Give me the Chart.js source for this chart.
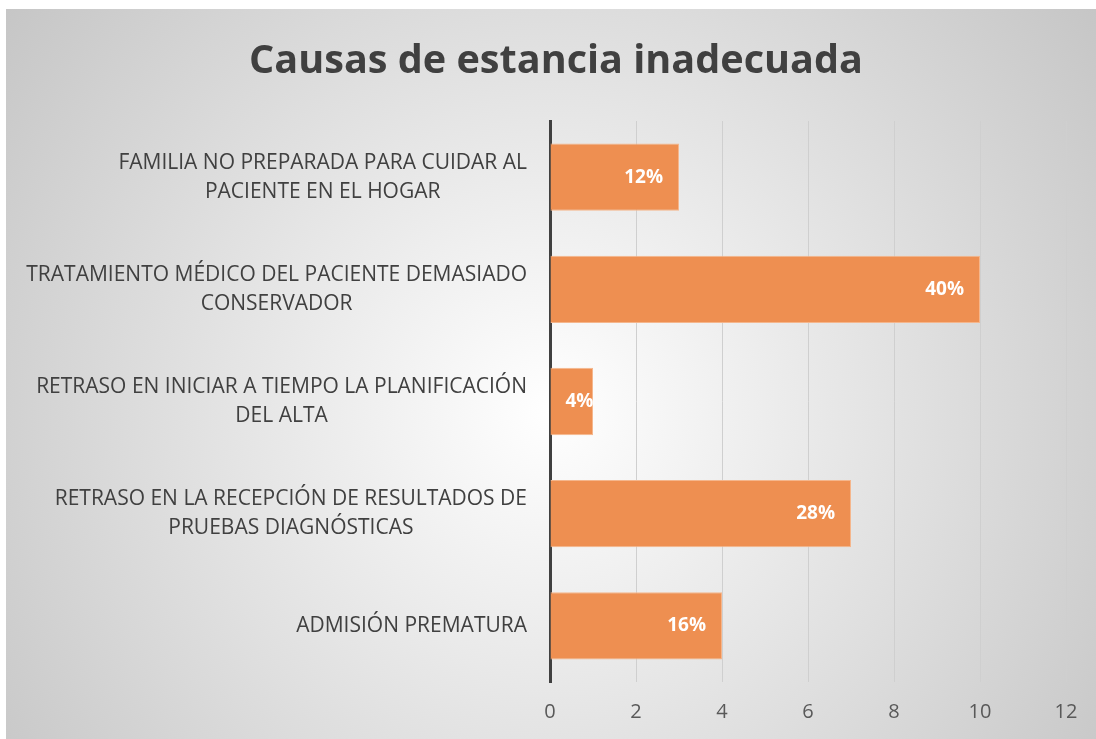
<!DOCTYPE html>
<html lang="es">
<head>
  <meta charset="UTF-8">
  <title>Causas de estancia inadecuada</title>
  <style>
    * { box-sizing: border-box; margin: 0; padding: 0; }
    body { background: #ffffff; width: 1096px; height: 739px; overflow: hidden; }
    .chart-box {
      position: absolute;
      left: 6px;
      top: 9px;
      width: 1090px;
      height: 730px;
    }
  </style>
</head>
<body>
  <div class="chart-box">
    <canvas id="causasChart" width="1090" height="730"></canvas>
  </div>

  <script src="https://cdn.jsdelivr.net/npm/chart.js"></script>
  <script>
    // Data
    const chartTitle = 'Causas de estancia inadecuada';
    const categories = [
      ['FAMILIA NO PREPARADA PARA CUIDAR AL', 'PACIENTE EN EL HOGAR'],
      ['TRATAMIENTO MÉDICO DEL PACIENTE DEMASIADO', 'CONSERVADOR'],
      ['RETRASO EN INICIAR A TIEMPO LA PLANIFICACIÓN', 'DEL ALTA'],
      ['RETRASO EN LA RECEPCIÓN DE RESULTADOS DE', 'PRUEBAS DIAGNÓSTICAS'],
      ['ADMISIÓN PREMATURA']
    ];
    const counts = [3, 10, 1, 7, 4];
    const percentLabels = ['12%', '40%', '4%', '28%', '16%'];
    const xTicks = [0, 2, 4, 6, 8, 10, 12];

    const textColor = '#404040';
    const labelFont = '"Open Sans", "DejaVu Sans", sans-serif';

    // radial grey background like the Excel chart style, plus the title
    const backgroundPlugin = {
      id: 'bgGradient',
      beforeDraw(chart) {
        const { ctx, width, height } = chart;
        const g = ctx.createRadialGradient(width * 0.5, height * 0.55, 0, width * 0.5, height * 0.55, width * 0.62);
        g.addColorStop(0, '#ffffff');
        g.addColorStop(1, '#c6c6c6');
        ctx.save();
        ctx.fillStyle = g;
        ctx.fillRect(0, 0, width, height);
        // title is centred on the whole chart box, a bit right of the canvas middle
        ctx.font = 'bold 39.6px ' + labelFont;
        ctx.fillStyle = textColor;
        ctx.textAlign = 'center';
        ctx.textBaseline = 'middle';
        ctx.fillText(chartTitle, width / 2 + 5, 53);
        ctx.restore();
      }
    };

    // category labels: block right-aligned to the axis, lines centred inside the block
    const categoryLabelPlugin = {
      id: 'categoryLabels',
      afterDraw(chart) {
        const { ctx } = chart;
        const yScale = chart.scales.y;
        const right = yScale.right - 23;
        const lineGap = 29;
        ctx.save();
        ctx.font = '21px ' + labelFont;
        ctx.fillStyle = textColor;
        ctx.textAlign = 'center';
        ctx.textBaseline = 'middle';
        categories.forEach((lines, i) => {
          const y = yScale.getPixelForTick(i);
          const maxW = Math.max(...lines.map(l => ctx.measureText(l).width));
          const cx = right - maxW / 2;
          const y0 = y - (lines.length - 1) * lineGap / 2;
          lines.forEach((l, j) => ctx.fillText(l, cx, y0 + j * lineGap));
        });
        ctx.restore();
      }
    };

    // white percent labels at the inner end of each bar
    const percentPlugin = {
      id: 'percentLabels',
      afterDatasetsDraw(chart) {
        const { ctx } = chart;
        const meta = chart.getDatasetMeta(0);
        ctx.save();
        ctx.font = 'bold 19px ' + labelFont;
        ctx.fillStyle = '#ffffff';
        ctx.textBaseline = 'middle';
        meta.data.forEach((bar, i) => {
          const txt = percentLabels[i];
          const w = ctx.measureText(txt).width;
          let x = bar.x - 16 - w;
          if (x < bar.base + 15) x = bar.base + 15;
          ctx.fillText(txt, x, bar.y);
        });
        ctx.restore();
      }
    };

    new Chart(document.getElementById('causasChart').getContext('2d'), {
      type: 'bar',
      data: {
        labels: categories,
        datasets: [{
          data: counts,
          backgroundColor: '#ee8f51',
          borderColor: '#f5b68c',
          borderWidth: 1,
          barPercentage: 0.6,
          categoryPercentage: 1.0
        }]
      },
      options: {
        indexAxis: 'y',
        responsive: false,
        animation: false,
        layout: { padding: { left: 0, right: 30, top: 112, bottom: 0 } },
        plugins: {
          legend: { display: false },
          tooltip: { enabled: false },
          title: { display: false }
        },
        scales: {
          x: {
            min: 0,
            max: 12,
            afterBuildTicks(axis) {
              axis.ticks = xTicks.map(v => ({ value: v }));
            },
            afterFit(axis) { axis.height = 57; },
            grid: { color: '#cfcfcf', lineWidth: 1, drawTicks: false },
            border: { display: false },
            ticks: {
              color: '#595959',
              font: { family: labelFont, size: 20 },
              padding: 18
            }
          },
          y: {
            afterFit(axis) { axis.width = 544; },
            grid: { display: false, drawTicks: false },
            border: { color: textColor, width: 3 },
            ticks: { display: false }
          }
        }
      },
      plugins: [backgroundPlugin, percentPlugin, categoryLabelPlugin]
    });
  </script>
</body>
</html>
